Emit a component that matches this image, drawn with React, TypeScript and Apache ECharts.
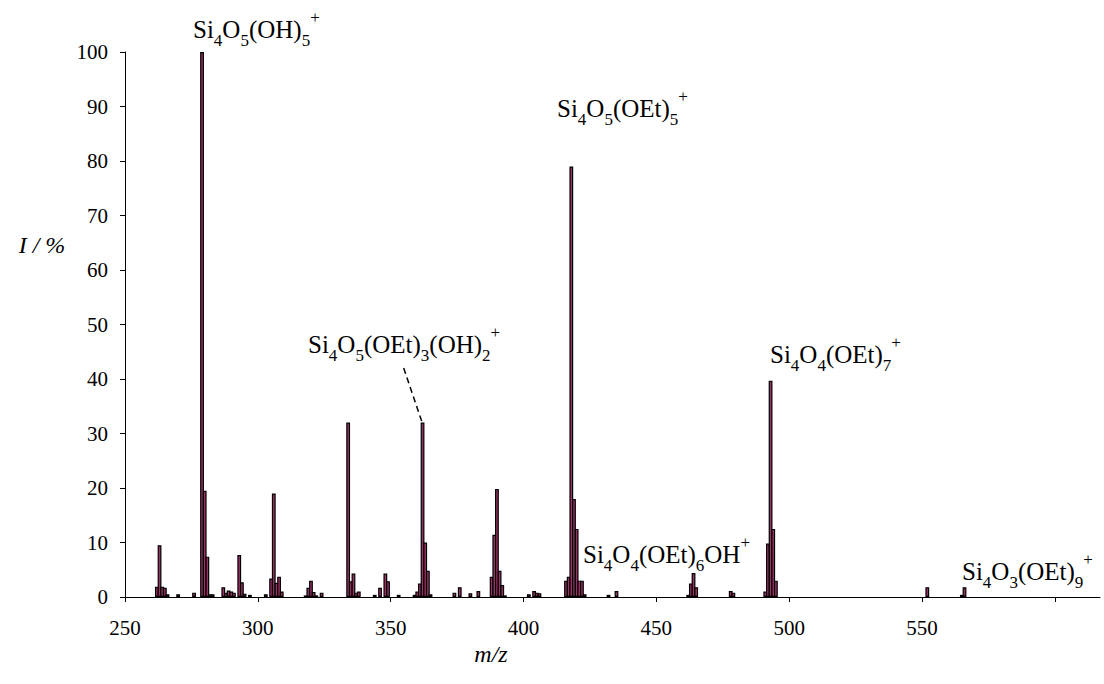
import React, { useEffect, useRef } from "react";
import * as echarts from "echarts";

const FONT = "'Liberation Serif', 'Times New Roman', serif";

// m/z values (integer mass channels) and relative intensities (%)
const massToCharge = [
  262, 263, 264, 265, 266, 270, 276, 279, 280, 281, 282, 283,
  287, 288, 289, 290, 291, 293, 294, 295, 297, 303,
  305, 306, 307, 308, 309, 318, 319, 320, 321, 322, 324,
  334, 335, 336, 337, 338, 344, 346, 348, 349, 353,
  359, 360, 361, 362, 363, 364, 365, 374, 376, 380, 383,
  388, 389, 390, 391, 392, 393, 402, 404, 405, 406,
  416, 417, 418, 419, 420, 421, 422, 423, 432, 435,
  462, 463, 464, 465, 478, 479, 491, 492, 493, 494, 495,
  552, 565, 566,
];
const intensity = [
  1.9, 9.5, 1.9, 1.7, 0.5, 0.5, 0.8, 100, 19.5, 7.4, 0.5, 0.5,
  1.8, 0.8, 1.2, 1.0, 0.8, 7.7, 2.7, 0.6, 0.4, 0.5,
  3.4, 19.0, 2.6, 3.7, 1.0, 0.3, 1.7, 3.0, 0.9, 0.3, 0.8,
  32, 2.9, 4.3, 0.8, 1.0, 0.4, 1.7, 4.3, 2.9, 0.4,
  0.4, 1.0, 2.5, 32, 10, 4.8, 0.5, 0.8, 1.8, 0.7, 1.1,
  3.7, 11.4, 19.8, 4.8, 2.2, 0.3, 0.5, 1.1, 0.8, 0.7,
  3.0, 3.7, 79, 18, 12.5, 3.0, 3.0, 0.5, 0.4, 1.1,
  0.4, 2.5, 4.4, 1.8, 1.1, 0.8, 1.0, 9.8, 39.7, 12.5, 3.0,
  1.8, 0.4, 1.8,
];

const xTickValues = [250, 300, 350, 400, 450, 500, 550, 600];
const xLabelValues = [250, 300, 350, 400, 450, 500, 550];

// ion labels (rich text: b = normal, s = subscript, p = superscript)
const ionLabels = [
  "{b|Si}{s|4}{b|O}{s|5}{b|(OH)}{s|5}{p|+}",
  "{b|Si}{s|4}{b|O}{s|5}{b|(OEt)}{s|5}{p|+}",
  "{b|Si}{s|4}{b|O}{s|5}{b|(OEt)}{s|3}{b|(OH)}{s|2}{p|+}",
  "{b|Si}{s|4}{b|O}{s|4}{b|(OEt)}{s|7}{p|+}",
  "{b|Si}{s|4}{b|O}{s|4}{b|(OEt)}{s|6}{b|OH}{p|+}",
  "{b|Si}{s|4}{b|O}{s|3}{b|(OEt)}{s|9}{p|+}",
];
// left edge and baseline of each label, in pixels
const ionLabelPos = [
  [193, 37],
  [557, 116],
  [308, 352],
  [770, 362],
  [583, 562],
  [962, 579],
];

// leader line from label to the m/z 362 peak (data coordinates)
const leaderFrom = [354.9, 42];
const leaderTo = [362, 31.8];

export default function App() {
  const ref = useRef<HTMLDivElement>(null);

  useEffect(() => {
    if (!ref.current) return;
    const chart = echarts.init(ref.current, null, { renderer: "svg" });

    const data = massToCharge.map((m, i) => [m, intensity[i]]);

    const rich = {
      b: {
        fontSize: 25,
        fontFamily: FONT,
        lineHeight: 40,
        verticalAlign: "middle",
        color: "#000",
      },
      s: {
        fontSize: 17,
        fontFamily: FONT,
        lineHeight: 26,
        verticalAlign: "bottom",
        color: "#000",
      },
      p: {
        fontSize: 17,
        fontFamily: FONT,
        lineHeight: 20,
        verticalAlign: "top",
        color: "#000",
      },
    };

    const graphics: any[] = ionLabels.map((t, i) => ({
      type: "text",
      x: ionLabelPos[i][0],
      y: ionLabelPos[i][1] - 28,
      silent: true,
      style: {
        text: t,
        rich,
        fill: "#000",
        align: "left",
        verticalAlign: "top",
        fontFamily: FONT,
        fontSize: 25,
      },
    }));
    graphics.push(
      {
        type: "text",
        x: 42,
        y: 245,
        style: {
          text: "I / %",
          fontFamily: FONT,
          fontStyle: "italic",
          fontSize: 24,
          fill: "#000",
          align: "center",
          verticalAlign: "middle",
        },
      },
      {
        type: "text",
        x: 491,
        y: 654,
        style: {
          text: "m/z",
          fontFamily: FONT,
          fontStyle: "italic",
          fontSize: 24,
          fill: "#000",
          align: "center",
          verticalAlign: "middle",
        },
      }
    );

    chart.setOption({
      animation: false,
      backgroundColor: "#fff",
      grid: {
        left: 125,
        right: 4,
        top: 52,
        bottom: 87,
        containLabel: false,
        outerBoundsMode: "none",
      },
      xAxis: {
        type: "value",
        min: 250,
        max: 617,
        interval: 50,
        axisLine: { show: true, onZero: false, lineStyle: { color: "#000", width: 1 } },
        axisTick: {
          show: true,
          inside: false,
          length: 5,
          customValues: xTickValues,
          lineStyle: { color: "#000" },
        },
        axisLabel: {
          customValues: xLabelValues,
          fontFamily: FONT,
          fontSize: 21,
          color: "#000",
          margin: 20,
        },
        splitLine: { show: false },
      },
      yAxis: {
        type: "value",
        min: 0,
        max: 100,
        interval: 10,
        axisLine: { show: true, lineStyle: { color: "#000", width: 1 } },
        axisTick: { show: true, inside: false, length: 5, lineStyle: { color: "#000" } },
        axisLabel: {
          fontFamily: FONT,
          fontSize: 21,
          color: "#000",
          margin: 17,
        },
        splitLine: { show: false },
      },
      series: [
        {
          type: "bar",
          data,
          barWidth: 3.8,
          itemStyle: {
            color: "#993366",
            borderColor: "#000",
            borderWidth: 1.2,
          },
          markLine: {
            silent: true,
            symbol: ["none", "none"],
            label: { show: false },
            lineStyle: { type: [6, 4], color: "#000", width: 1.5 },
            data: [[{ coord: leaderFrom }, { coord: leaderTo }]],
          },
        },
      ],
      graphic: graphics,
    });

    return () => chart.dispose();
  }, []);

  return (
    <div
      ref={ref}
      style={{ position: "fixed", left: 0, top: 0, width: 1104, height: 684, background: "#fff" }}
    />
  );
}
